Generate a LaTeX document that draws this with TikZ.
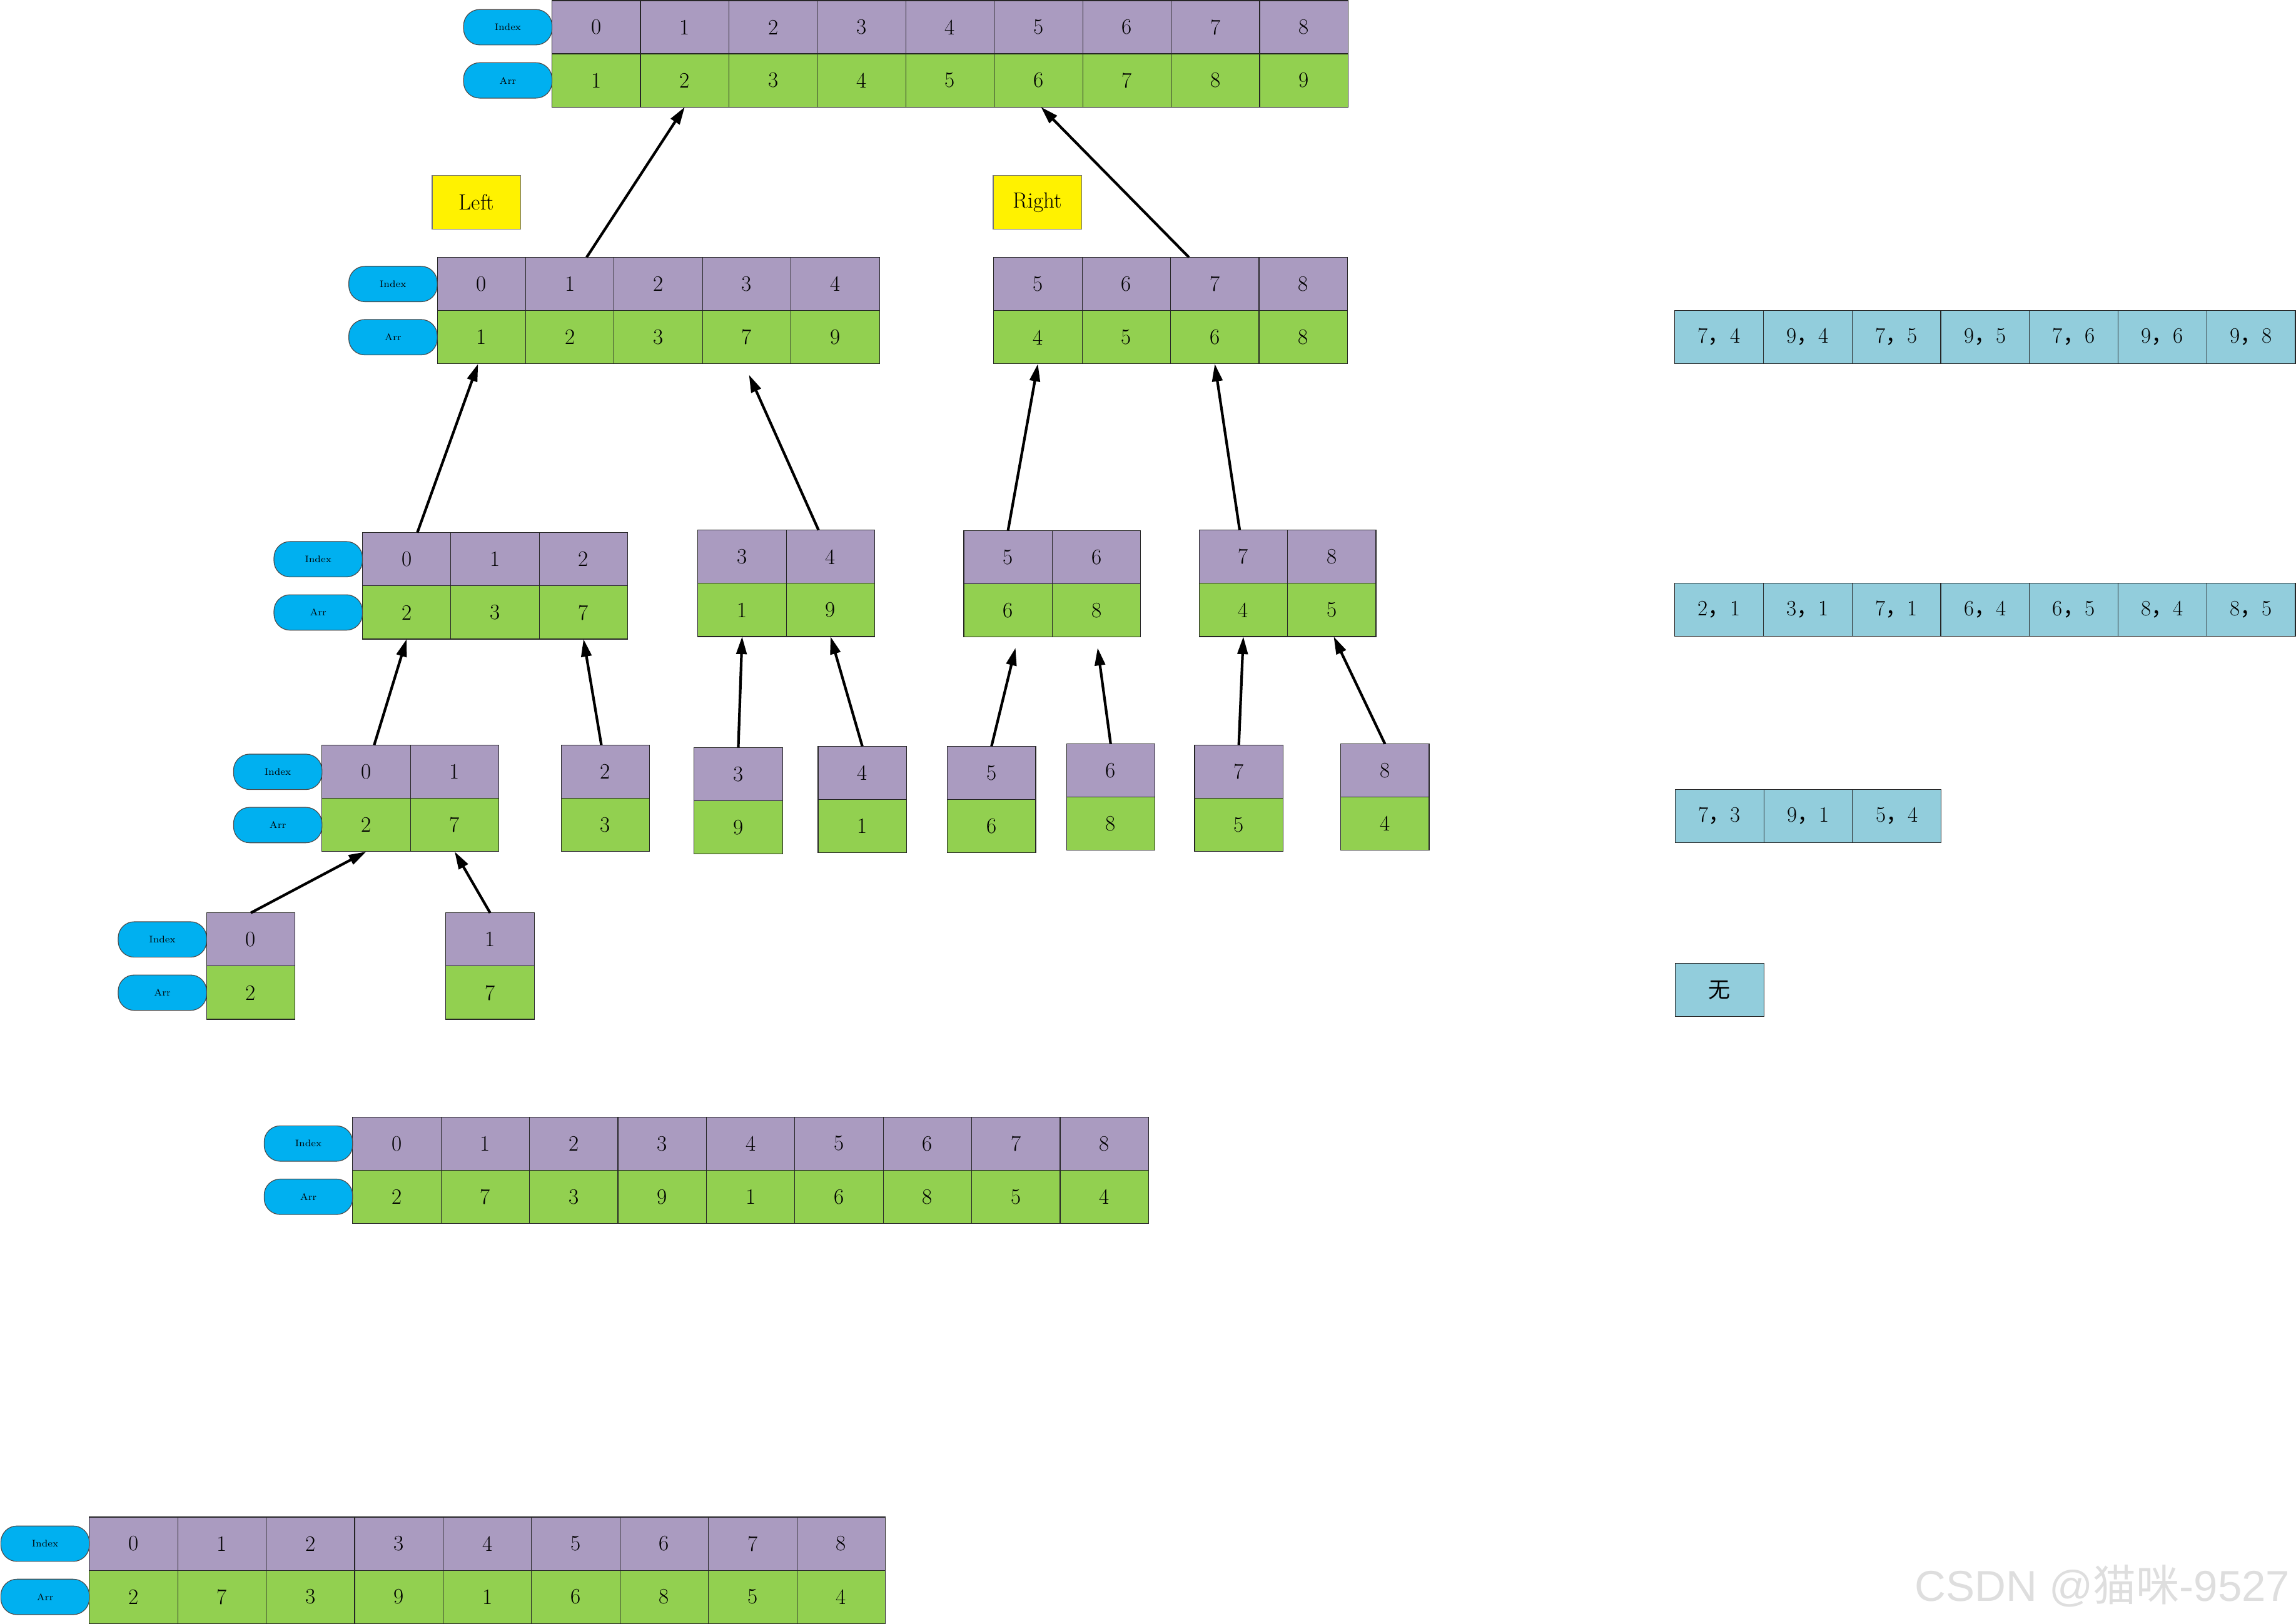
\documentclass[tikz,border=0pt]{standalone}
\usepackage{fontspec}
\newfontfamily\cjk{Noto Sans CJK SC}
\newfontfamily\wmfont{Liberation Sans}
\usetikzlibrary{arrows.meta,calc}
\definecolor{idxc}{RGB}{170,155,192}
\definecolor{valc}{RGB}{146,208,80}
\definecolor{pillc}{RGB}{0,176,240}
\definecolor{pairc}{RGB}{146,205,220}
\definecolor{wmc}{RGB}{222,222,222}
\newcommand\digfont{\fontsize{15}{18}\selectfont}
\newcommand\pillfont{\fontsize{6.5}{8}\selectfont}
\newcommand\fc{{\cjk ，}}
\tikzset{
 cellbase/.style={draw=black!85, line width=0.5pt, minimum width=60.4pt, minimum height=36.35pt, inner sep=0pt, outer sep=0pt, anchor=north west, font=\digfont},
 idxcell/.style={cellbase, fill=idxc},
 valcell/.style={cellbase, fill=valc},
 paircell/.style={cellbase, fill=pairc, minimum width=60.55pt},
 pill/.style={draw=black!70, line width=0.5pt, fill=pillc, rounded corners=11pt, minimum width=60.4pt, minimum height=24.2pt, inner sep=0pt, outer sep=0pt, anchor=east, font=\pillfont},
 tag/.style={draw=black!55, line width=0.6pt, fill=yellow, minimum width=60.6pt, minimum height=36.6pt, inner sep=0pt, font=\digfont},
 link/.style={draw=black, line width=1.8pt, -{Triangle[length=12pt,width=7pt]}},
}
\newcommand\mkarr[5]{%
  \foreach \t [count=\k from 0] in {#4}{\node[idxcell] (#1i\k) at ({#2+\k*60.4},{#3}) {\t};}
  \foreach \t [count=\k from 0] in {#5}{\node[valcell] (#1v\k) at ({#2+\k*60.4},{#3+36.35}) {\t};}
}
\newcommand\mkpills[3]{%
  \node[pill] (#1pi) at ({#2},{#3+18.18}) {Index};
  \node[pill] (#1pa) at ({#2},{#3+54.53}) {Arr};
}
\newcommand\mkpairs[4]{%
  \foreach \t [count=\k from 0] in {#4}{\node[paircell] (#1c\k) at ({#2+\k*60.55},{#3}) {\t};}
}
\begin{document}
\begin{tikzpicture}[x=1pt,y=-1pt]
\useasboundingbox (0,0) rectangle (1568,1109.25);
% top merged array
\mkarr{A0}{377}{0.4}{0,1,2,3,4,5,6,7,8}{1,2,3,4,5,6,7,8,9}
\mkpills{A0}{377}{0.4}
% labels
\node[tag] (left) at (325.4,138.2) {Left};
\node[tag] (right) at (708.5,138.2) {Right};
% level 1
\mkarr{A1}{298.6}{175.8}{0,1,2,3,4}{1,2,3,7,9}
\mkpills{A1}{298.6}{175.8}
\mkarr{A2}{678.6}{175.8}{5,6,7,8}{4,5,6,8}
% level 2
\mkarr{B1}{247.5}{363.8}{0,1,2}{2,3,7}
\mkpills{B1}{247.5}{363.8}
\mkarr{B2}{476.6}{362.1}{3,4}{1,9}
\mkarr{B3}{658.2}{362.4}{5,6}{6,8}
\mkarr{B4}{818.9}{362.1}{7,8}{4,5}
% level 3
\mkarr{C1}{219.9}{509}{0,1}{2,7}
\mkpills{C1}{219.9}{509}
\mkarr{C2}{383.2}{509}{2}{3}
\mkarr{C3}{474}{510.6}{3}{9}
\mkarr{C4}{558.7}{509.8}{4}{1}
\mkarr{C5}{646.9}{509.8}{5}{6}
\mkarr{C6}{728.3}{508.1}{6}{8}
\mkarr{C7}{815.8}{509}{7}{5}
\mkarr{C8}{915.6}{508.1}{8}{4}
% level 4
\mkarr{D1}{141.1}{623.5}{0}{2}
\mkpills{D1}{141.1}{623.5}
\mkarr{D2}{304.5}{623.5}{1}{7}
% full arrays
\mkarr{E}{240.8}{762.9}{0,1,2,3,4,5,6,7,8}{2,7,3,9,1,6,8,5,4}
\mkpills{E}{240.8}{762.9}
\mkarr{F}{61}{1036.2}{0,1,2,3,4,5,6,7,8}{2,7,3,9,1,6,8,5,4}
\mkpills{F}{61}{1036.2}
% reverse pairs
\mkpairs{R1}{1143.7}{211.9}{7\fc4,9\fc4,7\fc5,9\fc5,7\fc6,9\fc6,9\fc8}
\mkpairs{R2}{1143.7}{398.2}{2\fc1,3\fc1,7\fc1,6\fc4,6\fc5,8\fc4,8\fc5}
\mkpairs{R3}{1144}{539.1}{7\fc3,9\fc1,5\fc4}
\node[paircell] (R4c0) at (1144,657.9) {\cjk 无};
% connectors
\draw[link] ([xshift=11.4pt]A1i1.north) -- (A0v1.south);
\draw[link] ([xshift=-17.6pt]A2i2.north) -- ([xshift=1.7pt]A0v5.south);
\draw[link] ([xshift=7.3pt]B1i0.north) -- ([xshift=-2.3pt]A1v0.south);
\draw[link] ([xshift=-8.2pt]B2i1.north) -- ([xshift=1.5pt,yshift=-7.5pt]A1v3.south);
\draw[link] (B3i0.north) -- (A2v0.south);
\draw[link] ([xshift=-2.5pt]B4i0.north) -- (A2v2.south);
\draw[link] ([xshift=5.4pt]C1i0.north) -- (B1v0.south);
\draw[link] ([xshift=-2.7pt]C2i0.north) -- (B1v2.south);
\draw[link] (C3i0.north) -- (B2v0.south);
\draw[link] (C4i0.north) -- (B2v1.south);
\draw[link] (C5i0.north) -- ([xshift=5.1pt,yshift=-7.4pt]B3v0.south);
\draw[link] (C6i0.north) -- ([xshift=0.8pt,yshift=-7.4pt]B3v1.south);
\draw[link] (C7i0.north) -- (B4v0.south);
\draw[link] (C8i0.north) -- ([xshift=1.3pt]B4v1.south);
\draw[link] (D1i0.north) -- (C1v0.south);
\draw[link] (D2i0.north) -- (C1v1.south);
% watermark
\node[anchor=base west, text=wmc, inner sep=0pt, font=\fontsize{29.5}{32}\selectfont] (wm) at (1307.5,1093.5) {\wmfont CSDN @{\cjk 猫咪}-9527};
\end{tikzpicture}
\end{document}
